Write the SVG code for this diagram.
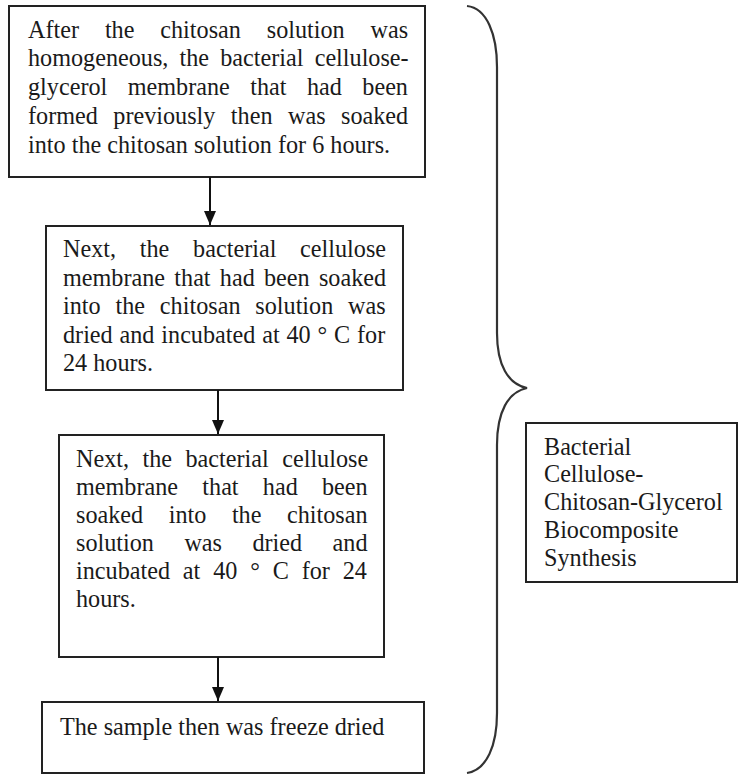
<svg xmlns="http://www.w3.org/2000/svg" width="740" height="775" viewBox="0 0 740 775">
<defs>
<marker id="ah" viewBox="0 0 14 12" refX="14" refY="6" markerWidth="14" markerHeight="12" markerUnits="userSpaceOnUse" orient="auto">
<path d="M0,0 L14,6 L0,12 Z" fill="#111"/>
</marker>
<style>
.box{fill:#fff;stroke:#222;stroke-width:2}
.t{font-family:"Liberation Serif","Times New Roman",serif;font-size:24.2px;fill:#1a1a1a}
.c{stroke:#111;stroke-width:2;fill:none}
.br{stroke:#333;stroke-width:2.2;fill:none}
</style>
</defs>
<rect width="740" height="775" fill="#fff"/>
<g id="step1">
<rect class="box" x="9" y="6" width="416" height="171"/>
<text class="t">
<tspan x="28" y="37.5" word-spacing="19.8">After the chitosan solution was</tspan>
<tspan x="28" y="66.3" word-spacing="5.1">homogeneous, the bacterial cellulose-</tspan>
<tspan x="28" y="95.1" word-spacing="14.4">glycerol membrane that had been</tspan>
<tspan x="28" y="123.9" word-spacing="9.4">formed previously then was soaked</tspan>
<tspan x="28" y="152.7">into the chitosan solution for 6 hours.</tspan>
</text>
</g>
<g id="step2">
<rect class="box" x="46" y="226" width="357" height="164"/>
<text class="t">
<tspan x="63" y="257.3" word-spacing="17.7">Next, the bacterial cellulose</tspan>
<tspan x="63" y="285.7" word-spacing="3.2">membrane that had been soaked</tspan>
<tspan x="63" y="314.1" word-spacing="8.8">into the chitosan solution was</tspan>
<tspan x="63" y="342.5" word-spacing="0.8">dried and incubated at 40 ° C for</tspan>
<tspan x="63" y="371">24 hours.</tspan>
</text>
</g>
<g id="step3">
<rect class="box" x="59" y="435" width="325" height="222"/>
<text class="t">
<tspan x="76" y="466.7" word-spacing="7.4">Next, the bacterial cellulose</tspan>
<tspan x="76" y="494.7" word-spacing="18.2">membrane that had been</tspan>
<tspan x="76" y="522.7" word-spacing="19.5">soaked into the chitosan</tspan>
<tspan x="76" y="550.7" word-spacing="24.4">solution was dried and</tspan>
<tspan x="76" y="578.7" word-spacing="6.8">incubated at 40 ° C for 24</tspan>
<tspan x="76" y="606.7">hours.</tspan>
</text>
</g>
<g id="step4">
<rect class="box" x="42" y="702" width="382" height="71"/>
<text class="t" x="60" y="735">The sample then was freeze dried</text>
</g>
<g id="summary">
<rect class="box" x="526" y="423" width="211" height="159"/>
<text class="t">
<tspan x="544" y="454.5">Bacterial</tspan>
<tspan x="544" y="482.3">Cellulose-</tspan>
<tspan x="544" y="510.2">Chitosan-Glycerol</tspan>
<tspan x="544" y="538.1">Biocomposite</tspan>
<tspan x="544" y="566">Synthesis</tspan>
</text>
</g>
<g id="brace">
<path class="br" d="M467,6 C487,8 497,35 497,67 L497,333 C497,365 508,384 527,388 C508,392 497,412 497,445 L497,713 C497,745 487,770 467,773"/>
</g>
<g id="connectors">
<line class="c" x1="210" y1="177" x2="210" y2="225" marker-end="url(#ah)"/>
<line class="c" x1="218" y1="390" x2="218" y2="434" marker-end="url(#ah)"/>
<line class="c" x1="218" y1="657" x2="218" y2="701" marker-end="url(#ah)"/>
</g>
</svg>
